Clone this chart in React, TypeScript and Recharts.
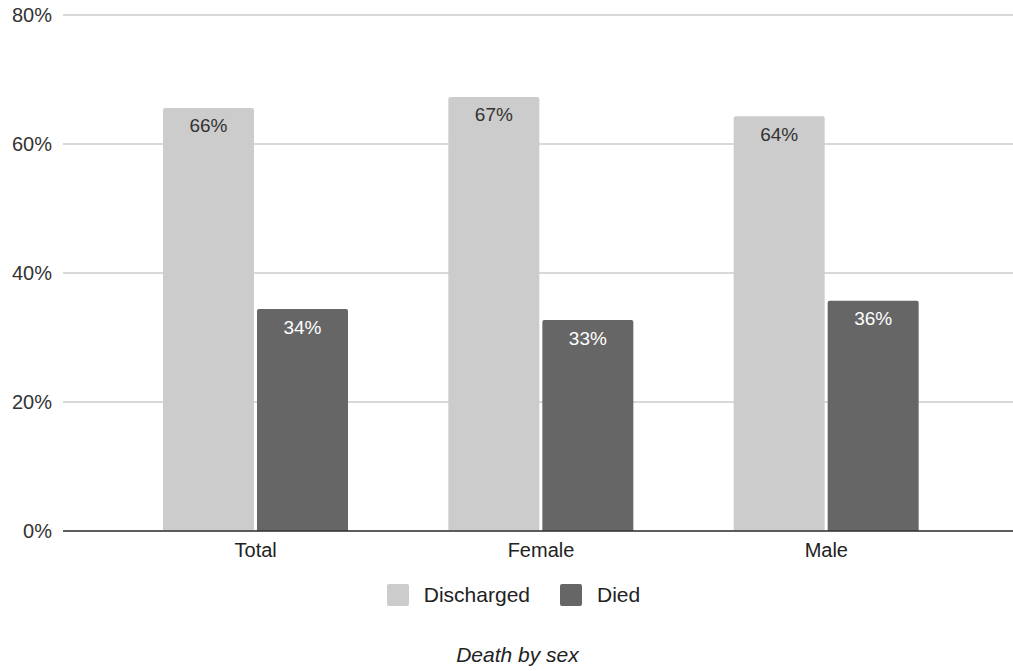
import React from "react";
import { BarChart, Bar, XAxis, YAxis, CartesianGrid, LabelList } from "recharts";

const categories = ["Total", "Female", "Male"];
const discharged = [65.6, 67.3, 64.3];
const died = [34.4, 32.7, 35.7];
const yTicks = [0, 20, 40, 60, 80];
const seriesNames = ["Discharged", "Died"];
const title = "Death by sex";

const data = categories.map((c, i) => ({ name: c, Discharged: discharged[i], Died: died[i] }));

const FONT = '"Liberation Sans", Arial, sans-serif';
const LIGHT = "#cccccc";
const DARK = "#666666";

export default function App() {
  return (
    <div style={{ position: "absolute", left: 0, top: 0, width: 1013, height: 671, background: "#fff" }}>
      <BarChart
        width={1013}
        height={671}
        data={data}
        margin={{ top: 15, right: 0, left: 0, bottom: 110 }}
        barGap={3}
        barSize={91}
      >
        <CartesianGrid vertical={false} stroke="#cccccc" strokeWidth={1.5} />
        <XAxis
          dataKey="name"
          height={30}
          padding={{ left: 50, right: 44 }}
          tickLine={false}
          axisLine={{ stroke: "#333333", strokeWidth: 1.5 }}
          tick={{ fill: "#222", fontSize: 20, fontFamily: FONT }}
          tickMargin={12}
          tickSize={0}
        />
        <YAxis
          width={63}
          domain={[0, 80]}
          ticks={yTicks}
          tickFormatter={(v: number) => `${v}%`}
          axisLine={false}
          tickLine={false}
          tickSize={0}
          tickMargin={11}
          tick={{ fill: "#333", fontSize: 20, fontFamily: FONT }}
        />
        <Bar dataKey="Discharged" fill={LIGHT} radius={[2, 2, 0, 0]} isAnimationActive={false}>
          <LabelList
            dataKey="Discharged"
            position="insideTop"
            offset={11}
            formatter={(v: number) => `${Math.round(v)}%`}
            style={{ fill: "#333", fontSize: 19, fontFamily: FONT }}
          />
        </Bar>
        <Bar dataKey="Died" fill={DARK} radius={[2, 2, 0, 0]} isAnimationActive={false}>
          <LabelList
            dataKey="Died"
            position="insideTop"
            offset={11}
            formatter={(v: number) => `${Math.round(v)}%`}
            style={{ fill: "#ffffff", fontSize: 19, fontFamily: FONT }}
          />
        </Bar>
      </BarChart>
      <div
        style={{
          position: "absolute",
          top: 583,
          left: 7,
          width: 1013,
          display: "flex",
          justifyContent: "center",
          alignItems: "center",
          fontFamily: FONT,
          fontSize: 21,
          color: "#222",
        }}
      >
        {seriesNames.map((n, i) => (
          <div key={n} style={{ display: "flex", alignItems: "center", marginLeft: i === 0 ? 0 : 30 }}>
            <div style={{ width: 22, height: 22, borderRadius: 2, background: i === 0 ? LIGHT : DARK, marginRight: 15 }} />
            <span>{n}</span>
          </div>
        ))}
      </div>
      <div
        style={{
          position: "absolute",
          top: 643,
          left: 11,
          width: 1013,
          textAlign: "center",
          fontFamily: FONT,
          fontStyle: "italic",
          fontSize: 21,
          color: "#222",
        }}
      >
        {title}
      </div>
    </div>
  );
}
